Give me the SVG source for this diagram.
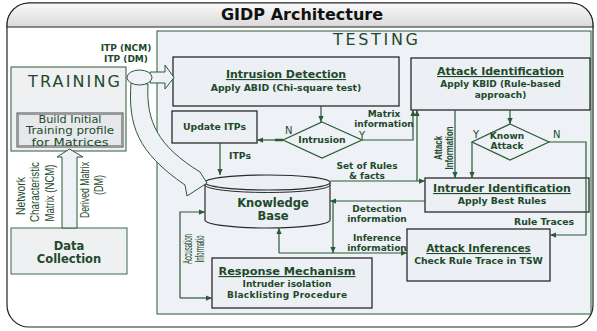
<svg xmlns="http://www.w3.org/2000/svg" width="597" height="331" viewBox="0 0 597 331">
<style>
.t{font-family:"DejaVu Sans",Verdana,sans-serif;font-weight:bold;fill:#1d4a2a;}
.h{font-size:11px;text-decoration:underline;}
.s{font-size:9.3px;}
.s2{font-size:9px;}
.big{font-family:"DejaVu Sans",sans-serif;font-size:16px;fill:#1d4a2a;}
.yn{font-family:"DejaVu Sans",sans-serif;font-size:10px;fill:#1d4a2a;}
.bi{font-family:"DejaVu Sans",sans-serif;font-size:9.8px;fill:#1d4a2a;}
.rot{font-family:"Liberation Sans",Arial,sans-serif;font-size:13px;fill:#1d4a2a;}
.rotb{font-family:"Liberation Sans",Arial,sans-serif;font-size:11px;font-weight:bold;fill:#1d4a2a;}
.box{fill:#eceff3;stroke:#2a2a2a;stroke-width:1.3;}
.ar{fill:none;stroke:#2b5a36;stroke-width:1.2;marker-end:url(#ah);}
.blk{fill:#eef1f5;stroke:#2b5a36;stroke-width:1;}
</style>
<defs>
<linearGradient id="tg" x1="0" y1="0" x2="0" y2="1">
<stop offset="0" stop-color="#fafafa"/><stop offset="1" stop-color="#d9d9d9"/>
</linearGradient>
<marker id="ah" viewBox="0 0 8 8" refX="8" refY="4" markerWidth="6" markerHeight="6" orient="auto" markerUnits="userSpaceOnUse"><path d="M0,0.5 L8,4 L0,7.5z" fill="#2b5a36"/></marker>
</defs>
<rect x="0" y="0" width="597" height="331" fill="#ffffff"/>
<g id="frame">
<rect x="7" y="3" width="586" height="324" rx="22" fill="#ffffff" stroke="#222" stroke-width="1.2"/>
<path d="M7,27 L7,25 A22,22 0 0 1 29,3 L571,3 A22,22 0 0 1 593,25 L593,27 Z" fill="url(#tg)" stroke="#222" stroke-width="1.2"/>
<text x="302" y="20" text-anchor="middle" style="font-family:'DejaVu Sans',sans-serif;font-weight:bold;font-size:16px;fill:#111">GIDP Architecture</text>
</g>
<g id="testing">
<rect x="157" y="31" width="434" height="283" fill="#eef1f5" stroke="#2b5a36" stroke-width="1"/>
<text x="333" y="45" class="big" textLength="85">TESTING</text>
</g>
<g id="training">
<rect x="11" y="67" width="115" height="84" fill="#eef0f2" stroke="#2b5a36" stroke-width="1"/>
<text x="28" y="87" class="big" textLength="92">TRAINING</text>
</g>
<g id="build-profile">
<rect x="17" y="113" width="106" height="34" fill="#e6e8eb" stroke="#4a4a4a" stroke-width="1"/>
<rect x="18.5" y="114.5" width="103" height="31" fill="none" stroke="#9a9a9a" stroke-width="1"/>
<text x="70" y="122.5" text-anchor="middle" class="bi" textLength="63" lengthAdjust="spacingAndGlyphs">Build Initial</text>
<text x="70" y="134" text-anchor="middle" class="bi" textLength="88" lengthAdjust="spacingAndGlyphs">Training profile</text>
<text x="70" y="145.5" text-anchor="middle" class="bi" textLength="77" lengthAdjust="spacingAndGlyphs">for Matrices</text>
</g>
<g id="data-collection">
<rect x="11" y="228" width="116" height="46" fill="#eef0f2" stroke="#3d6b4a" stroke-width="1"/>
<text x="69" y="250" text-anchor="middle" class="t" style="font-size:11.5px">Data</text>
<text x="69" y="263" text-anchor="middle" class="t" style="font-size:11.5px">Collection</text>
</g>
<g id="intrusion-detection">
<rect x="173" y="57" width="226" height="49" class="box"/>
<text x="286" y="78" text-anchor="middle" class="t h">Intrusion Detection</text>
<text x="286" y="91" text-anchor="middle" class="t s">Apply ABID (Chi-square test)</text>
</g>
<g id="update-itps">
<rect x="172" y="111" width="85" height="32" class="box"/>
<text x="214.5" y="130" text-anchor="middle" class="t s">Update ITPs</text>
</g>
<g id="intrusion-decision">
<polygon points="322,122 362,140 322,158 283,140" fill="#eef1f5" stroke="#2b5a36" stroke-width="1.2"/>
<text x="322" y="143" text-anchor="middle" class="t s">Intrusion</text>
</g>
<g id="attack-identification">
<rect x="411" y="58" width="179" height="52" class="box"/>
<text x="500.5" y="75" text-anchor="middle" class="t h">Attack Identification</text>
<text x="500.5" y="87" text-anchor="middle" class="t s2">Apply KBID (Rule-based</text>
<text x="500.5" y="98" text-anchor="middle" class="t s2">approach)</text>
</g>
<g id="known-attack">
<polygon points="510,124 549,142 510,160 472,142" fill="#eef1f5" stroke="#2b5a36" stroke-width="1.2"/>
<text x="507" y="139" text-anchor="middle" class="t s2">Known</text>
<text x="507" y="149" text-anchor="middle" class="t s2">Attack</text>
</g>
<g id="intruder-identification">
<rect x="425" y="178" width="164" height="34" class="box"/>
<text x="502" y="192" text-anchor="middle" class="t h">Intruder Identification</text>
<text x="502" y="204" text-anchor="middle" class="t s">Apply Best Rules</text>
</g>
<g id="attack-inferences">
<rect x="407" y="229" width="143" height="52" class="box"/>
<text x="478.5" y="252" text-anchor="middle" class="t h" style="font-size:10.5px">Attack Inferences</text>
<text x="478.5" y="264" text-anchor="middle" class="t s">Check Rule Trace in TSW</text>
</g>
<g id="knowledge-base">
<path d="M205,182.5 L205,220 A62.5,8 0 0 0 330,220 L330,182.5" fill="#eceff3" stroke="#2a2a2a" stroke-width="1.2"/>
<ellipse cx="267.5" cy="182.5" rx="62.5" ry="7.5" fill="#eceff3" stroke="#2a2a2a" stroke-width="1.2"/>
<path d="M205,185 A62.5,7.5 0 0 0 330,185" fill="none" stroke="#2a2a2a" stroke-width="1"/>
<text x="273" y="207" text-anchor="middle" class="t" style="font-size:11.5px">Knowledge</text>
<text x="273" y="220" text-anchor="middle" class="t" style="font-size:11.5px">Base</text>
</g>
<g id="response-mechanism">
<rect x="212" y="258" width="160" height="50" class="box"/>
<text x="287" y="275" text-anchor="middle" class="t h" style="font-size:11.3px">Response Mechanism</text>
<text x="287" y="286.5" text-anchor="middle" class="t s2">Intruder isolation</text>
<text x="287" y="297.5" text-anchor="middle" class="t s2" textLength="120">Blacklisting Procedure</text>
</g>
<g id="connectors">
<path class="blk" d="M62,228 L62,157 L57,157 L69.5,149 L83,157 L77,157 L77,228 Z"/>
<text transform="translate(25,196) rotate(-90)" text-anchor="middle" class="rot" textLength="38" lengthAdjust="spacingAndGlyphs">Network</text>
<text transform="translate(39,192) rotate(-90)" text-anchor="middle" class="rot" textLength="60" lengthAdjust="spacingAndGlyphs">Characteristic</text>
<text transform="translate(54,193) rotate(-90)" text-anchor="middle" class="rot" textLength="57" lengthAdjust="spacingAndGlyphs">Matrix (NCM)</text>
<text transform="translate(89,190) rotate(-90)" text-anchor="middle" class="rot" textLength="56" lengthAdjust="spacingAndGlyphs">Derived Matrix</text>
<text transform="translate(103,185) rotate(-90)" text-anchor="middle" class="rot" textLength="20" lengthAdjust="spacingAndGlyphs">(DM)</text>
<path class="blk" d="M131,83 C128,125 137,152 185,185 L187,196 L207,183 L200,172 C158,146 146,122 148,84 Z"/>
<path class="blk" d="M150,72 L165,72 L165,65 L174,77.5 L165,89 L165,83 L150,83 Z"/>
<ellipse cx="139.5" cy="77.5" rx="12.5" ry="7.5" fill="#eef1f5" stroke="#2b5a36" stroke-width="1"/>
<text x="126" y="51" text-anchor="middle" class="t s2">ITP (NCM)</text>
<text x="126" y="62" text-anchor="middle" class="t s2">ITP (DM)</text>
<path class="ar" d="M321,106 L321,122"/>
<path class="ar" d="M283,140 L257,140"/>
<path d="M275,140 L283,140" stroke="#2b5a36" stroke-width="2.5"/>
<text x="285" y="134" class="yn">N</text>
<text x="359" y="139" class="yn">Y</text>
<path class="ar" d="M362,140 L413,140 L413,110"/>
<text x="384" y="117" text-anchor="middle" class="t s2">Matrix</text>
<text x="384" y="126.5" text-anchor="middle" class="t s2">information</text>
<path class="ar" d="M220,143 L220,175"/>
<text x="229" y="159" class="t s">ITPs</text>
<path class="ar" d="M330,181 L425,181"/>
<path class="ar" d="M417,181 L417,110"/>
<text x="367" y="169" text-anchor="middle" class="t s2">Set of Rules</text>
<text x="367" y="179" text-anchor="middle" class="t s2">&amp; facts</text>
<path class="ar" d="M455,110 L455,178"/>
<text transform="translate(442,148) rotate(-90)" text-anchor="middle" class="rotb" textLength="24" lengthAdjust="spacingAndGlyphs">Attack</text>
<text transform="translate(453,148) rotate(-90)" text-anchor="middle" class="rotb" textLength="43" lengthAdjust="spacingAndGlyphs">Information</text>
<path class="ar" d="M510,110 L510,124"/>
<path class="ar" d="M472,142 L472,178"/>
<text x="473" y="138" class="yn">Y</text>
<text x="553" y="138" class="yn">N</text>
<path class="ar" d="M549,142 L586,142 L586,235 L550,235"/>
<text x="544" y="225" text-anchor="middle" class="t s">Rule Traces</text>
<path class="ar" d="M425,201 L330,201"/>
<path class="ar" d="M333,201 L333,253"/>
<text x="377" y="212" text-anchor="middle" class="t s2">Detection</text>
<text x="377" y="222" text-anchor="middle" class="t s2">information</text>
<path class="ar" d="M279,253 L407,253"/>
<path class="ar" d="M279,253 L279,228"/>
<text x="377" y="241" text-anchor="middle" class="t s2">Inference</text>
<text x="377" y="251" text-anchor="middle" class="t s2">information</text>
<path class="ar" d="M180,298 L180,212 L205,212"/>
<path class="ar" d="M180,298 L212,298"/>
<text transform="translate(192,249) rotate(-90)" text-anchor="middle" class="rot" style="font-size:12px" textLength="30" lengthAdjust="spacingAndGlyphs">Accusation</text>
<text transform="translate(204,249) rotate(-90)" text-anchor="middle" class="rot" style="font-size:12px" textLength="27" lengthAdjust="spacingAndGlyphs">Informatio</text>
</g>
</svg>
